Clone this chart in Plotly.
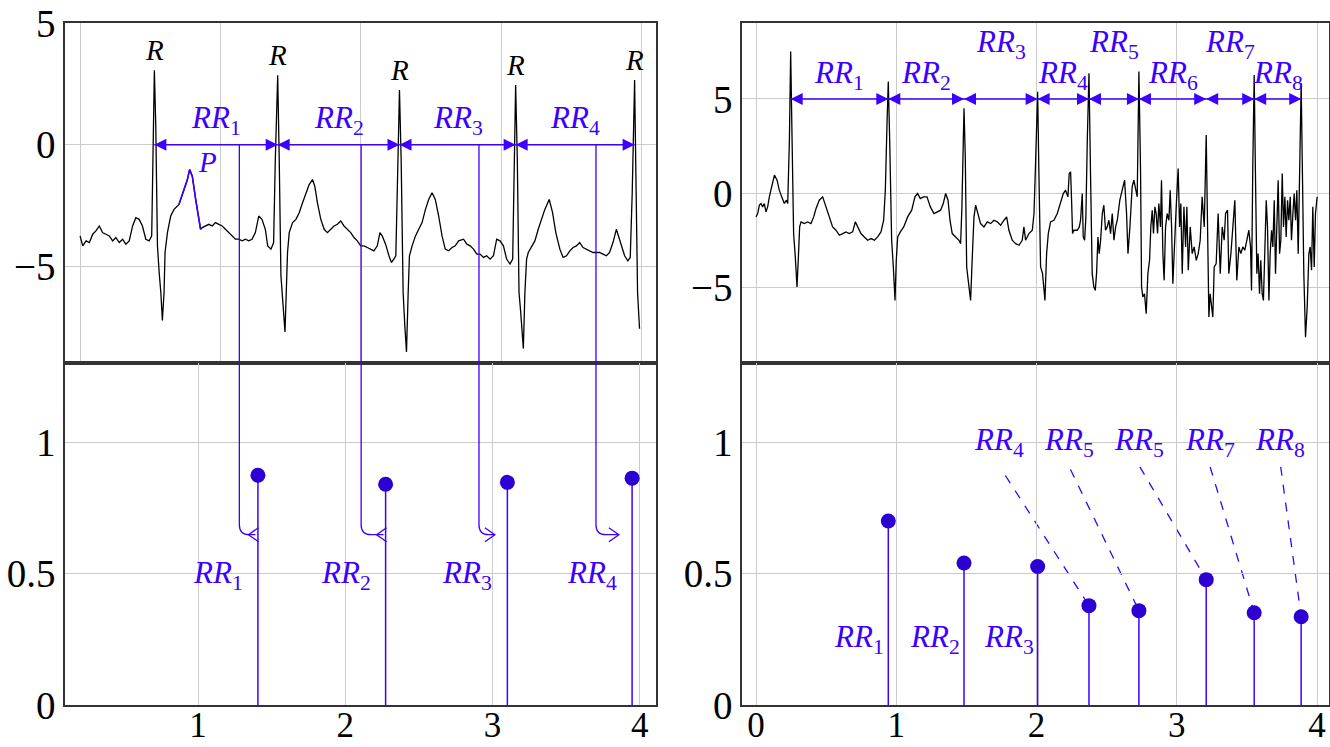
import plotly.graph_objects as go

# ---------------- data ----------------
# left ECG trace: (time, amplitude)
ecg_left = [(0.000,-3.742),(0.019,-4.150),(0.043,-3.946),(0.066,-4.014),(0.090,-3.673),(0.113,-3.537),(0.137,-3.334),(0.160,-3.606),
(0.184,-3.673),(0.208,-3.742),(0.232,-3.946),(0.255,-3.810),(0.279,-4.014),(0.303,-3.878),(0.326,-4.082),(0.350,-3.946),(0.374,-3.334),
(0.397,-2.993),(0.421,-3.062),(0.444,-3.334),(0.468,-3.878),(0.492,-3.946),(0.510,-3.742),(0.520,-0.613),(0.529,3.061),(0.539,0.748),
(0.551,-4.150),(0.563,-5.238),(0.575,-6.055),(0.586,-7.211),(0.598,-6.055),(0.605,-4.422),(0.622,-3.606),(0.645,-2.925),(0.669,-2.653),
(0.693,-2.517),(0.704,-2.449),(0.740,-1.837),(0.764,-1.429),(0.780,-1.020),(0.799,-1.293),(0.823,-2.245),(0.846,-3.062),(0.858,-3.470),
(0.870,-3.402),(0.894,-3.334),(0.917,-3.266),(0.941,-3.334),(0.964,-3.197),(0.988,-3.266),(1.012,-3.334),(1.035,-3.470),(1.059,-3.606),
(1.083,-3.742),(1.106,-3.878),(1.130,-3.878),(1.154,-3.946),(1.177,-3.878),(1.201,-3.946),(1.224,-3.878),(1.248,-3.606),(1.272,-2.925),
(1.295,-3.062),(1.319,-3.470),(1.336,-4.150),(1.359,-4.286),(1.378,-4.014),(1.390,-0.613),(1.407,2.857),(1.418,-0.613),(1.430,-5.374),
(1.442,-6.327),(1.459,-7.687),(1.468,-6.055),(1.477,-4.422),(1.489,-3.606),(1.513,-3.197),(1.537,-3.062),(1.560,-2.789),(1.584,-2.381),
(1.608,-1.973),(1.631,-1.633),(1.655,-1.429),(1.671,-1.701),(1.690,-2.381),(1.714,-3.062),(1.738,-3.470),(1.761,-3.606),(1.785,-3.470),
(1.808,-3.334),(1.832,-3.266),(1.856,-3.129),(1.879,-3.334),(1.903,-3.470),(1.927,-3.606),(1.950,-3.810),(1.974,-3.946),(1.998,-4.150),
(2.021,-4.150),(2.045,-4.218),(2.069,-4.286),(2.092,-4.354),(2.116,-4.150),(2.135,-3.606),(2.151,-3.742),(2.175,-4.082),(2.199,-4.558),
(2.217,-4.830),(2.234,-4.694),(2.248,-4.558),(2.258,-1.973),(2.274,2.245),(2.286,-0.613),(2.300,-6.055),(2.312,-7.415),(2.324,-8.503),
(2.336,-6.055),(2.345,-4.558),(2.364,-4.150),(2.388,-3.742),(2.411,-3.470),(2.435,-3.197),(2.459,-2.653),(2.482,-2.245),(2.506,-1.973),
(2.529,-2.245),(2.553,-2.925),(2.577,-3.742),(2.600,-4.286),(2.624,-4.354),(2.648,-4.218),(2.671,-4.150),(2.695,-3.946),(2.730,-3.878),
(2.754,-4.082),(2.777,-4.150),(2.801,-4.286),(2.825,-4.490),(2.848,-4.490),(2.872,-4.626),(2.895,-4.558),(2.919,-4.694),(2.943,-4.558),
(2.966,-3.878),(2.990,-3.946),(3.014,-4.150),(3.037,-4.694),(3.061,-4.898),(3.080,-4.694),(3.089,-0.613),(3.101,2.449),(3.113,-0.613),
(3.125,-6.055),(3.137,-6.871),(3.156,-8.367),(3.167,-6.055),(3.179,-4.694),(3.191,-4.422),(3.215,-4.150),(3.238,-3.946),(3.262,-3.470),
(3.286,-3.062),(3.309,-2.653),(3.340,-2.245),(3.364,-2.789),(3.387,-3.606),(3.416,-4.286),(3.439,-4.626),(3.463,-4.558),(3.487,-4.354),
(3.510,-4.218),(3.534,-4.150),(3.557,-4.014),(3.581,-4.218),(3.605,-4.286),(3.628,-4.354),(3.652,-4.422),(3.676,-4.422),(3.699,-4.422),
(3.723,-4.490),(3.747,-4.558),(3.770,-4.422),(3.794,-4.014),(3.818,-3.470),(3.834,-3.742),(3.853,-4.150),(3.877,-4.558),(3.900,-4.762),
(3.917,-4.626),(3.931,-1.973),(3.948,2.653),(3.959,-1.973),(3.969,-6.055),(3.983,-7.551)]

# highlighted P wave (left)
p_wave = [(0.704,-2.449),(0.740,-1.837),(0.764,-1.429),(0.780,-1.020),(0.799,-1.293),(0.823,-2.245),(0.846,-3.062),(0.858,-3.470)]

# right ECG trace
ecg_right = [(0.000,-1.259),(0.012,-1.082),(0.024,-0.638),(0.036,-0.550),(0.047,-0.727),(0.059,-0.550),(0.071,-0.993),(0.083,-0.727),
(0.095,-0.195),(0.112,0.337),(0.131,0.957),(0.150,0.691),(0.166,0.160),(0.183,-0.195),(0.202,-0.550),(0.216,-0.372),(0.226,-0.550),
(0.238,2.819),(0.247,7.517),(0.257,2.819),(0.268,-2.145),(0.280,-3.386),(0.292,-4.982),(0.302,-3.386),(0.311,-1.791),(0.321,-1.525),
(0.344,-1.614),(0.368,-1.525),(0.392,-1.614),(0.411,-1.259),(0.428,-0.816),(0.451,-0.372),(0.475,-0.195),(0.499,-0.727),(0.523,-1.259),
(0.546,-1.791),(0.570,-1.968),(0.594,-2.234),(0.618,-2.145),(0.641,-2.057),(0.665,-2.145),(0.689,-2.057),(0.708,-1.525),(0.725,-1.791),
(0.748,-2.145),(0.772,-2.323),(0.796,-2.500),(0.820,-2.411),(0.844,-2.500),(0.867,-2.323),(0.891,-2.057),(0.910,-1.436),(0.922,0.160),
(0.934,3.706),(0.943,5.922),(0.953,2.819),(0.967,-2.500),(0.979,-3.918),(0.991,-5.691),(1.000,-3.564),(1.010,-2.323),(1.029,-2.057),
(1.053,-1.791),(1.081,-1.259),(1.110,-0.904),(1.133,-0.195),(1.152,-0.018),(1.171,-0.284),(1.195,-0.195),(1.219,-0.195),(1.243,-0.727),
(1.269,-1.082),(1.292,-0.993),(1.316,-0.904),(1.335,-0.550),(1.352,-0.018),(1.369,-0.372),(1.383,-1.436),(1.399,-2.145),(1.423,-2.323),
(1.447,-2.500),(1.459,-2.677),(1.468,-0.727),(1.478,2.819),(1.483,4.503),(1.492,1.933),(1.502,-3.918),(1.513,-4.628),(1.530,-5.691),
(1.542,-3.386),(1.554,-1.259),(1.566,-0.638),(1.582,-1.082),(1.601,-1.614),(1.625,-1.791),(1.649,-1.525),(1.673,-1.614),(1.696,-1.436),
(1.720,-1.525),(1.744,-1.702),(1.768,-1.436),(1.787,-1.259),(1.803,-1.968),(1.827,-2.500),(1.851,-2.677),(1.875,-2.766),(1.898,-2.500),
(1.910,-1.791),(1.922,-2.500),(1.946,-2.145),(1.970,-1.968),(1.982,-1.082),(1.991,1.046),(2.001,3.706),(2.008,5.390),(2.017,1.046),
(2.029,-3.918),(2.043,-4.273),(2.060,-5.691),(2.072,-3.209),(2.084,-2.145),(2.100,-1.525),(2.124,-1.436),(2.148,-1.082),(2.172,-0.550),
(2.191,-0.018),(2.207,0.160),(2.224,-0.195),(2.233,1.046),(2.243,1.135),(2.250,-0.372),(2.257,-2.145),(2.267,-1.968),(2.290,-1.968),
(2.305,-1.791),(2.314,-1.436),(2.326,-0.018),(2.333,-2.323),(2.343,-2.500),(2.352,-1.259),(2.362,2.819),(2.374,6.365),(2.385,1.046),
(2.397,-4.273),(2.409,-4.982),(2.419,-5.160),(2.428,-4.273),(2.438,-2.323),(2.447,-3.209),(2.457,-2.500),(2.469,-1.082),(2.480,-0.638),
(2.492,-1.968),(2.504,-1.791),(2.516,-1.436),(2.528,-2.145),(2.540,-1.082),(2.552,-2.500),(2.564,-1.791),(2.576,-1.436),(2.594,-0.372),
(2.611,0.160),(2.628,0.691),(2.642,-1.082),(2.652,-3.209),(2.666,-1.791),(2.682,0.337),(2.694,0.691),(2.706,0.160),(2.718,-0.195),
(2.730,6.454),(2.742,1.046),(2.749,-4.982),(2.758,-5.514),(2.770,-5.337),(2.782,-6.401),(2.794,-4.273),(2.806,-3.564),(2.815,-1.791),
(2.825,-0.904),(2.834,-2.145),(2.844,-0.727),(2.853,-1.082),(2.863,-2.145),(2.872,-0.550),(2.884,-1.791),(2.891,0.691),(2.901,-3.209),
(2.910,-4.628),(2.920,-1.791),(2.932,-1.082),(2.944,-1.436),(2.953,0.160),(2.963,-1.791),(2.972,-4.805),(2.982,-2.855),(2.996,-0.727),
(3.010,1.312),(3.020,-1.791),(3.029,-0.550),(3.039,-4.273),(3.051,-0.727),(3.063,-2.855),(3.072,-0.727),(3.082,-4.096),(3.096,-1.791),
(3.110,-3.209),(3.124,-2.855),(3.139,-3.564),(3.153,-3.209),(3.167,-2.500),(3.181,-0.195),(3.196,-1.791),(3.210,3.085),(3.219,-1.082),
(3.229,-6.578),(3.238,-5.337),(3.248,-6.046),(3.257,-6.578),(3.267,-3.918),(3.281,-3.741),(3.295,-1.082),(3.310,-4.273),(3.324,-1.791),
(3.338,-2.500),(3.348,-1.082),(3.362,-0.904),(3.371,-4.273),(3.386,-3.209),(3.400,-1.791),(3.414,-0.372),(3.428,-4.628),(3.443,-2.855),
(3.457,-3.209),(3.471,-2.855),(3.485,-3.032),(3.500,-2.500),(3.514,-1.968),(3.526,-2.855),(3.533,-5.160),(3.542,1.400),(3.552,6.276),
(3.561,1.046),(3.571,-4.273),(3.580,-3.209),(3.590,-5.337),(3.599,-3.564),(3.609,-5.337),(3.618,-5.691),(3.628,-3.209),(3.638,-0.372),
(3.647,-1.791),(3.657,-5.691),(3.666,-3.209),(3.676,-1.968),(3.685,-2.855),(3.695,-0.372),(3.704,-4.273),(3.714,-0.727),(3.723,0.691),
(3.733,-3.209),(3.742,-2.500),(3.752,1.046),(3.761,-1.791),(3.771,-0.195),(3.780,-2.323),(3.790,-0.372),(3.799,-1.436),(3.809,-0.195),
(3.818,-2.500),(3.828,-1.082),(3.837,-0.018),(3.847,-1.436),(3.856,0.160),(3.866,-3.209),(3.878,2.287),(3.887,5.833),(3.896,1.046),
(3.906,-4.273),(3.918,-7.642),(3.930,-6.046),(3.942,-3.209),(3.951,-2.855),(3.961,-4.096),(3.970,-0.727),(3.980,-3.918),(3.989,-1.082),
(4.001,-0.195)]

# R peaks (left)
r_left_t = [0.529, 1.407, 2.274, 3.101, 3.948]
r_left_v = [3.061, 2.857, 2.245, 2.449, 2.653]
# RR intervals (left), shown at the closing R peak
rr_left = [0.874, 0.840, 0.847, 0.863]
# connectors from the top panel to the RR stems (left)
conn_top_x = [1.134, 2.001, 2.840, 3.673]
conn_tip_x = [1.39, 2.26, 3.016, 3.858]
conn_head = ['<', '<', '>', '>']
conn_y = 0.648

# R peaks (right)
r_right_t = [0.247, 0.943, 1.483, 2.008, 2.374, 2.730, 3.210, 3.552, 3.887]
rr_right = [0.700, 0.540, 0.527, 0.378, 0.359, 0.477, 0.351, 0.336]
rr_right_label_y = [6.3, 6.3, 7.9, 6.3, 7.9, 6.3, 7.9, 6.3]
# call-out labels above the right stems
callout_text = ['4', '5', '5', '7', '8']
callout_x = [1.732, 2.230, 2.732, 3.240, 3.739]
callout_line_x0 = [1.778, 2.242, 2.737, 3.238, 3.741]
callout_line_y0 = [0.873, 0.896, 0.906, 0.906, 0.906]
callout_target = [3, 4, 5, 6, 7]

# ---------------- layout constants ----------------
BLUE = '#3b00ff'
MARK = '#2c00d2'
FONT = 'Liberation Serif'
L_DOM = [0.0489, 0.4932]
R_DOM = [0.5579, 0.9992]
TOP_DOM = [0.5137, 0.9696]
BOT_DOM = [0.0562, 0.5137]
TL_XR = [-0.107, 4.10]
TL_YR = [-8.97, 5.01]
BL_XR = [0.097, 4.11]
BOT_YR = [0, 1.30]
TR_XR = [-0.10, 4.085]
TR_YR = [-9.03, 9.05]


def rr_label(n):
    return '<i>RR</i><sub>%s</sub>' % n


def to_paper(v, rng, dom):
    return dom[0] + (v - rng[0]) / (rng[1] - rng[0]) * (dom[1] - dom[0])


fig = go.Figure()

# ECG traces
fig.add_trace(go.Scatter(x=[p[0] for p in ecg_left], y=[p[1] for p in ecg_left], mode='lines',
                         line=dict(color='black', width=1.3), xaxis='x', yaxis='y'))
fig.add_trace(go.Scatter(x=[p[0] for p in p_wave], y=[p[1] for p in p_wave], mode='lines',
                         line=dict(color=BLUE, width=1.6), xaxis='x', yaxis='y'))
fig.add_trace(go.Scatter(x=[p[0] for p in ecg_right], y=[p[1] for p in ecg_right], mode='lines',
                         line=dict(color='black', width=1.3), xaxis='x3', yaxis='y3'))


# stems
def stems(ts, vs, xa, ya):
    xs, ys = [], []
    for t, v in zip(ts, vs):
        xs += [t, t, None]
        ys += [0, v, None]
    fig.add_trace(go.Scatter(x=xs, y=ys, mode='lines', line=dict(color=BLUE, width=1.5), xaxis=xa, yaxis=ya))
    fig.add_trace(go.Scatter(x=ts, y=vs, mode='markers', marker=dict(color=MARK, size=15), xaxis=xa, yaxis=ya))


stems(r_left_t[1:], rr_left, 'x2', 'y2')
stems(r_right_t[1:], rr_right, 'x4', 'y4')

ann = []
shapes = []

# left: R labels
for t, v in zip(r_left_t, r_left_v):
    ann.append(dict(x=t, y=v, xref='x', yref='y', text='<i>R</i>', showarrow=False, yanchor='bottom',
                    yshift=2, font=dict(family=FONT, size=29, color='black')))


# double arrows between R peaks (lines + arrow-head markers)
def rr_arrows(ts, level, xa, ya, label_y):
    xs, ys, hx_l, hx_r = [], [], [], []
    for i in range(len(ts) - 1):
        xs += [ts[i], ts[i + 1], None]
        ys += [level, level, None]
        hx_l.append(ts[i])
        hx_r.append(ts[i + 1])
        ann.append(dict(x=(ts[i] + ts[i + 1]) / 2, y=label_y[i], xref=xa, yref=ya, text=rr_label(i + 1),
                        showarrow=False, font=dict(family=FONT, size=31, color=BLUE)))
    fig.add_trace(go.Scatter(x=xs, y=ys, mode='lines', line=dict(color=BLUE, width=1.5), xaxis=xa, yaxis=ya))
    fig.add_trace(go.Scatter(x=hx_l, y=[level] * len(hx_l), mode='markers', xaxis=xa, yaxis=ya,
                             marker=dict(symbol='arrow-left', size=12, color=BLUE, line=dict(width=0))))
    fig.add_trace(go.Scatter(x=hx_r, y=[level] * len(hx_r), mode='markers', xaxis=xa, yaxis=ya,
                             marker=dict(symbol='arrow-right', size=12, color=BLUE, line=dict(width=0))))


rr_arrows(r_left_t, 0, 'x', 'y', [1.03] * 4)
rr_arrows(r_right_t, 5, 'x3', 'y3', rr_right_label_y)

# P label
ann.append(dict(x=0.907, y=-0.70, xref='x', yref='y', text='<i>P</i>', showarrow=False,
                font=dict(family=FONT, size=29, color=BLUE)))

# bottom-left labels
for i, t in enumerate(r_left_t[1:]):
    ann.append(dict(x=t, y=0.496, xref='x2', yref='y2', text=rr_label(i + 1), showarrow=False,
                    xanchor='right', xshift=-13, font=dict(family=FONT, size=31, color=BLUE)))

# bottom-right lower labels
for i in range(3):
    ann.append(dict(x=r_right_t[i + 1], y=0.25, xref='x4', yref='y4', text=rr_label(i + 1), showarrow=False,
                    xanchor='right', xshift=-2, font=dict(family=FONT, size=31, color=BLUE)))

# bottom-right call-outs
for k in range(len(callout_text)):
    ann.append(dict(x=callout_x[k], y=1.0, xref='x4', yref='y4', text=rr_label(callout_text[k]), showarrow=False,
                    font=dict(family=FONT, size=31, color=BLUE)))
    j = callout_target[k]
    shapes.append(dict(type='line', xref='x4', yref='y4', x0=callout_line_x0[k], y0=callout_line_y0[k],
                       x1=r_right_t[j + 1], y1=rr_right[j], layer='below',
                       line=dict(color=BLUE, width=1.3, dash='dash')))

# connectors (left)
rx, ry = 10 / 1330, 10 / 747
hx, hy = 10 / 1330, 7 / 747
y0 = to_paper(0, TL_YR, TOP_DOM)
yh = to_paper(conn_y, BOT_YR, BOT_DOM)
for k in range(len(conn_top_x)):
    xv = to_paper(conn_top_x[k], TL_XR, L_DOM)
    xt = to_paper(conn_tip_x[k], BL_XR, L_DOM)
    path = 'M %f,%f L %f,%f Q %f,%f %f,%f L %f,%f' % (xv, y0, xv, yh + ry, xv, yh, xv + rx, yh, xt, yh)
    shapes.append(dict(type='path', xref='paper', yref='paper', path=path, line=dict(color=BLUE, width=1.3)))
    if conn_head[k] == '>':
        hp = 'M %f,%f L %f,%f L %f,%f' % (xt - hx, yh + hy, xt, yh, xt - hx, yh - hy)
    else:
        hp = 'M %f,%f L %f,%f L %f,%f' % (xt + 0.3 * hx, yh + hy, xt - 0.7 * hx, yh, xt + 0.3 * hx, yh - hy)
    shapes.append(dict(type='path', xref='paper', yref='paper', path=hp, line=dict(color=BLUE, width=1.3)))

axis_common = dict(showline=True, mirror=True, linecolor='#333333', linewidth=1.6, showgrid=True,
                   gridcolor='#cccccc', gridwidth=1, zeroline=False, ticks='', automargin=False)
yfont = dict(family=FONT, size=39, color='black')
xfont = dict(family=FONT, size=35, color='black')

fig.update_layout(
    width=1330, height=747, margin=dict(l=0, r=0, t=0, b=0, autoexpand=False),
    paper_bgcolor='white', plot_bgcolor='white', showlegend=False,
    xaxis=dict(domain=L_DOM, range=TL_XR, anchor='y', tickvals=[0, 1, 2, 3, 4], showticklabels=False,
               tickfont=xfont, **axis_common),
    yaxis=dict(domain=TOP_DOM, range=TL_YR, anchor='x', tickvals=[-5, 0, 5], ticklabelstandoff=0,
               tickfont=yfont, **axis_common),
    xaxis2=dict(domain=L_DOM, range=BL_XR, anchor='y2', tickvals=[1, 2, 3, 4], ticklabelstandoff=-12,
                tickfont=xfont, **axis_common),
    yaxis2=dict(domain=BOT_DOM, range=BOT_YR, anchor='x2', tickvals=[0, 0.5, 1], ticktext=['0', '0.5', '1'],
                ticklabelstandoff=0, tickfont=yfont, **axis_common),
    xaxis3=dict(domain=R_DOM, range=TR_XR, anchor='y3', tickvals=[0, 1, 2, 3, 4], showticklabels=False,
                tickfont=xfont, **axis_common),
    yaxis3=dict(domain=TOP_DOM, range=TR_YR, anchor='x3', tickvals=[-5, 0, 5], ticklabelstandoff=0,
                tickfont=yfont, **axis_common),
    xaxis4=dict(domain=R_DOM, range=TR_XR, anchor='y4', tickvals=[0, 1, 2, 3, 4], ticklabelstandoff=-12,
                tickfont=xfont, **axis_common),
    yaxis4=dict(domain=BOT_DOM, range=BOT_YR, anchor='x4', tickvals=[0, 0.5, 1], ticktext=['0', '0.5', '1'],
                ticklabelstandoff=0, tickfont=yfont, **axis_common),
    annotations=ann, shapes=shapes,
)

fig.write_html('out.html')
